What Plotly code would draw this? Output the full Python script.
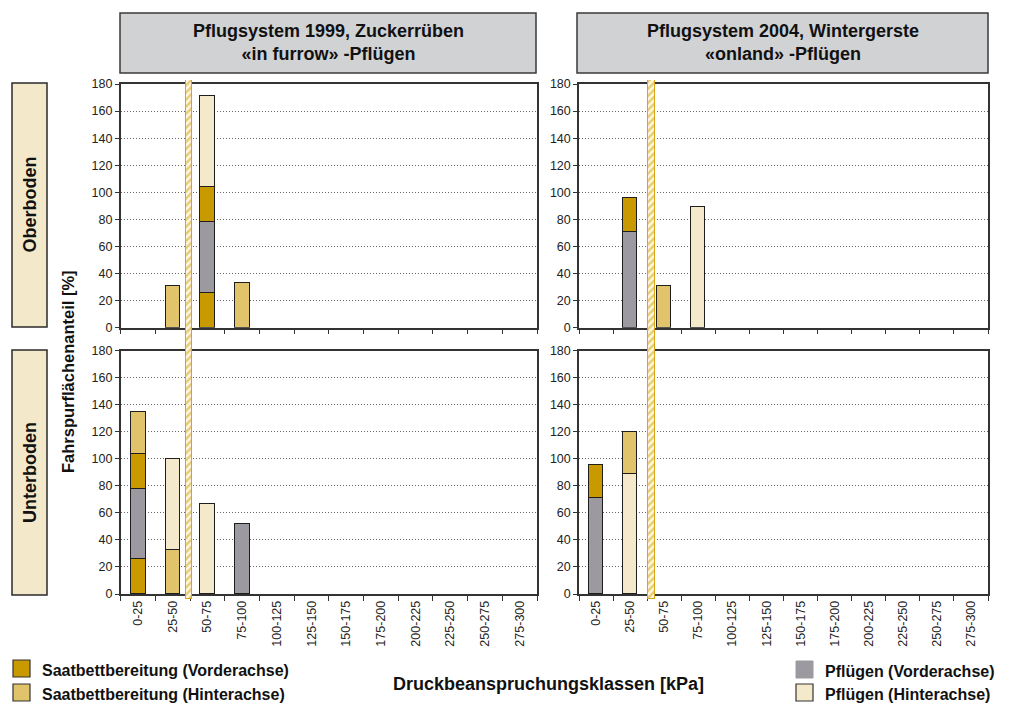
import plotly.graph_objects as go

# ---------------- data ----------------
categories = ["0-25", "25-50", "50-75", "75-100", "100-125", "125-150",
              "150-175", "175-200", "200-225", "225-250", "250-275", "275-300"]

series_names = ["Saatbettbereitung (Vorderachse)", "Saatbettbereitung (Hinterachse)",
                "Pflügen (Vorderachse)", "Pflügen (Hinterachse)"]
series_colors = ["#C99A00", "#E0C36A", "#9C9AA0", "#F4EACB"]

panel_headers = ["Pflugsystem 1999, Zuckerrüben<br>«in furrow» -Pflügen",
                 "Pflugsystem 2004, Wintergerste<br>«onland» -Pflügen"]
row_labels = ["Oberboden", "Unterboden"]

# stacked segments, bottom to top within each category
# (category index, series index, value)
ob1999_cat = [1, 2, 2, 2, 2, 3]
ob1999_ser = [1, 0, 2, 0, 3, 1]
ob1999_val = [31, 26, 52, 26, 67, 33]

ub1999_cat = [0, 0, 0, 0, 1, 1, 2, 3]
ub1999_ser = [0, 2, 0, 1, 1, 3, 3, 2]
ub1999_val = [26, 52, 26, 31, 33, 67, 67, 52]

ob2004_cat = [1, 1, 2, 3]
ob2004_ser = [2, 0, 1, 3]
ob2004_val = [71, 25, 31, 89]

ub2004_cat = [0, 0, 1, 1]
ub2004_ser = [2, 0, 3, 1]
ub2004_val = [71, 25, 89, 31]

# position of hatched separator (in category units) for each column
separator_pos = [1.46, 1.63]

# ---------------- layout helpers ----------------
W, H = 1010, 704
OFF = 8  # page body margin
FONT = "Liberation Sans, Arial, Helvetica, sans-serif"


def px_x(p):
    return (p - OFF) / W


def px_y(p):
    return 1 - (p - OFF) / H


col_dom = [[px_x(120.7), px_x(537)], [px_x(579), px_x(988)]]
row_dom = [[px_y(327.7), px_y(84)], [px_y(594), px_y(350.7)]]
band_dom = [px_y(599), px_y(80)]

fig = go.Figure()

panels = [
    ("x", "y", ob1999_cat, ob1999_ser, ob1999_val),
    ("x2", "y2", ob2004_cat, ob2004_ser, ob2004_val),
    ("x3", "y3", ub1999_cat, ub1999_ser, ub1999_val),
    ("x4", "y4", ub2004_cat, ub2004_ser, ub2004_val),
]

for xa, ya, cats, sers, vals in panels:
    for c, s, v in zip(cats, sers, vals):
        fig.add_trace(go.Bar(
            x=[c], y=[v], xaxis=xa, yaxis=ya, width=0.42,
            marker=dict(color=series_colors[s], line=dict(color="#1E1E1E", width=1.2)),
            name=series_names[s], showlegend=False, hoverinfo="skip"))

# hatched separators spanning both rows
for i, (xa, ya) in enumerate([("x5", "y5"), ("x6", "y6")]):
    fig.add_trace(go.Bar(
        x=[separator_pos[i]], y=[1], xaxis=xa, yaxis=ya, width=0.2,
        marker=dict(color="#FBF0C8", line=dict(color="#D9A514", width=1),
                    pattern=dict(shape="/", fgcolor="#D49E0A", bgcolor="#FFF8E4",
                                 size=5, solidity=0.5)),
        showlegend=False, hoverinfo="skip"))

tick_font = dict(family=FONT, size=12.5, color="#222222")


def xaxis_def(dom, anchor, show_labels):
    return dict(domain=dom, anchor=anchor, range=[-0.5, 11.5],
                tickmode="array", tickvals=list(range(len(categories))),
                ticktext=categories, showticklabels=show_labels,
                tickangle=-90, ticks="", tickfont=tick_font,
                minor=dict(tickmode="array",
                           tickvals=[i - 0.5 for i in range(len(categories) + 1)],
                           ticks="outside", ticklen=5, tickcolor="#333333",
                           tickwidth=1, showgrid=False),
                showline=True, linecolor="#333333", linewidth=1.5, mirror=True,
                showgrid=False, zeroline=False, automargin=False, fixedrange=True)


def yaxis_def(dom, anchor):
    return dict(domain=dom, anchor=anchor, range=[0, 180], dtick=20,
                ticks="outside", ticklen=4, tickcolor="#333333", tickfont=tick_font,
                showline=True, linecolor="#333333", linewidth=1.5, mirror=True,
                showgrid=True, gridcolor="#666666", griddash="1px,2px", gridwidth=1,
                zeroline=False, automargin=False, fixedrange=True)


layout = dict(
    width=W, height=H,
    margin=dict(l=0, r=0, t=0, b=0),
    paper_bgcolor="white", plot_bgcolor="rgba(0,0,0,0)",
    barmode="stack", bargap=0, showlegend=False,
    font=dict(family=FONT, color="#111111"),
    xaxis=xaxis_def(col_dom[0], "y", False),
    yaxis=yaxis_def(row_dom[0], "x"),
    xaxis2=xaxis_def(col_dom[1], "y2", False),
    yaxis2=yaxis_def(row_dom[0], "x2"),
    xaxis3=xaxis_def(col_dom[0], "y3", True),
    yaxis3=yaxis_def(row_dom[1], "x3"),
    xaxis4=xaxis_def(col_dom[1], "y4", True),
    yaxis4=yaxis_def(row_dom[1], "x4"),
    xaxis5=dict(domain=col_dom[0], anchor="y5", range=[-0.5, 11.5], visible=False, fixedrange=True),
    yaxis5=dict(domain=band_dom, anchor="x5", range=[0, 1], visible=False, fixedrange=True),
    xaxis6=dict(domain=col_dom[1], anchor="y6", range=[-0.5, 11.5], visible=False, fixedrange=True),
    yaxis6=dict(domain=band_dom, anchor="x6", range=[0, 1], visible=False, fixedrange=True),
)
fig.update_layout(**layout)

shapes = []
annotations = []

# column headers
header_x = [(120, 536), (577, 988)]
for (x0, x1), txt in zip(header_x, panel_headers):
    shapes.append(dict(type="rect", xref="paper", yref="paper",
                       x0=px_x(x0), x1=px_x(x1), y0=px_y(73), y1=px_y(13),
                       fillcolor="#D1D2D4", line=dict(color="#3A3A3A", width=1.5)))
    bold = "<b>" + txt.replace("<br>", "</b><br><b>") + "</b>"
    annotations.append(dict(xref="paper", yref="paper", x=px_x((x0 + x1) / 2), y=px_y(43),
                            text=bold, showarrow=False, xanchor="center", yanchor="middle",
                            font=dict(family=FONT, size=18, color="#111111"),
                            align="center"))

# row labels
row_px = [(83, 327), (350, 595)]
for (y0, y1), txt in zip(row_px, row_labels):
    shapes.append(dict(type="rect", xref="paper", yref="paper",
                       x0=px_x(12), x1=px_x(47), y0=px_y(y1), y1=px_y(y0),
                       fillcolor="#F3E9CA", line=dict(color="#2A2A2A", width=1.5)))
    annotations.append(dict(xref="paper", yref="paper", x=px_x(29.5), y=px_y((y0 + y1) / 2),
                            text="<b>" + txt + "</b>", showarrow=False, textangle=-90,
                            xanchor="center", yanchor="middle",
                            font=dict(family=FONT, size=18, color="#111111")))

# axis titles
annotations.append(dict(xref="paper", yref="paper", x=px_x(68), y=px_y(372),
                        text="<b>Fahrspurflächenanteil [%]</b>", showarrow=False,
                        textangle=-90, xanchor="center", yanchor="middle",
                        font=dict(family=FONT, size=16.5, color="#111111")))
annotations.append(dict(xref="paper", yref="paper", x=px_x(548), y=px_y(684),
                        text="<b>Druckbeanspruchungsklassen [kPa]</b>", showarrow=False,
                        xanchor="center", yanchor="middle",
                        font=dict(family=FONT, size=18, color="#111111")))

# legends (custom)
legend_items = [
    (0, 13, 660, 40),
    (1, 13, 684, 40),
    (2, 796, 661, 823),
    (3, 796, 684, 823),
]
for s, sx, sy, tx in legend_items:
    line = dict(color="#9C9AA0", width=1) if s == 2 else dict(color="#333333", width=1.2)
    shapes.append(dict(type="rect", xref="paper", yref="paper",
                       x0=px_x(sx), x1=px_x(sx + 17), y0=px_y(sy + 17), y1=px_y(sy),
                       fillcolor=series_colors[s], line=line))
    annotations.append(dict(xref="paper", yref="paper", x=px_x(tx), y=px_y(sy + 10),
                            text="<b>" + series_names[s] + "</b>", showarrow=False,
                            xanchor="left", yanchor="middle",
                            font=dict(family=FONT, size=16, color="#111111")))

fig.update_layout(shapes=shapes, annotations=annotations)

fig.write_html("out.html")
